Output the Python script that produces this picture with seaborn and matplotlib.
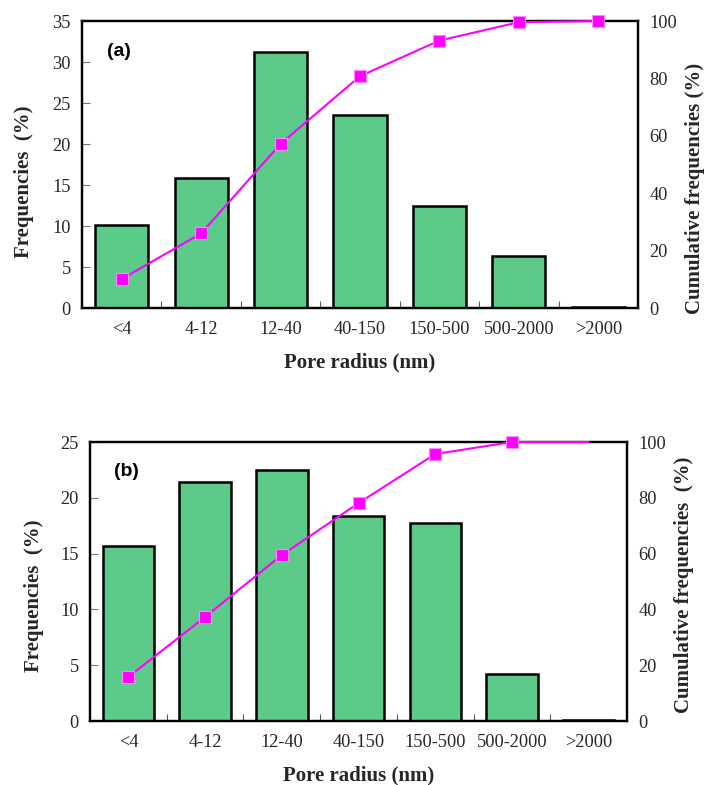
import numpy as np
import pandas as pd
import matplotlib
matplotlib.use("Agg")
import matplotlib.pyplot as plt
import seaborn as sns

sns.set_theme(style="white")
plt.rcParams['font.family'] = ['Liberation Serif', 'DejaVu Serif']

categories = ["<4", "4-12", "12-40", "40-150", "150-500", "500-2000", ">2000"]
freq_a = [10.1, 15.9, 31.2, 23.6, 12.4, 6.4, 0.1]
cum_a = [10.1, 26.0, 57.2, 80.8, 93.2, 99.6, 100.0]
freq_b = [15.7, 21.4, 22.5, 18.4, 17.7, 4.2, 0.1]
cum_b = [15.8, 37.3, 59.5, 78.1, 95.7, 100.0, 100.0]
ymax_a, ymax_b = 35, 25
panel_labels = ["(a)", "(b)"]
right_labels = ["Cumulative frequencies (%)", "Cumulative frequencies  (%)"]

BAR = "#5ccb8a"
MAG = "#ff00ff"
FS_TICK = 13.2
FS_LAB = 15

fig = plt.figure(figsize=(7.05, 7.85), dpi=100)
ax_a = fig.add_axes([0.1163, 0.6076, 0.7887, 0.3656])
ax_b = fig.add_axes([0.1277, 0.0815, 0.7617, 0.3554])

def draw(ax, freq, cum, ymax, plabel, rlabel, marker_n, lpos, rpos):
    df = pd.DataFrame({"cat": categories, "freq": freq})
    sns.barplot(data=df, x="cat", y="freq", ax=ax, color=BAR, saturation=1,
                width=0.67, edgecolor="black", linewidth=1.8)
    ax.set_xlim(-0.5, len(categories) - 0.5)
    ax.set_ylim(0, ymax)
    ax.set_yticks(np.arange(0, ymax + 1, 5))
    ax.set_xlabel("Pore radius (nm)", fontsize=FS_LAB, fontweight="bold", labelpad=11)
    ax.set_ylabel("Frequencies  (%)", fontsize=FS_LAB, fontweight="bold")
    ax.yaxis.set_label_coords(*lpos)
    ax.tick_params(axis="x", which="major", length=0, labelsize=FS_TICK, pad=9)
    ax.set_xticks(np.arange(0.5, len(categories) - 1, 1), minor=True)
    ax.tick_params(axis="x", which="minor", direction="in", length=5, width=0.8,
                   color="#555555", bottom=True)
    ax.tick_params(axis="y", direction="in", length=6, width=0.8, color="#777777",
                   left=True, labelsize=FS_TICK, pad=8)
    for s in ax.spines.values():
        s.set_color("black")
        s.set_linewidth(1.6)
    ax.text(0.067, 0.893, plabel, transform=ax.transAxes, fontsize=14,
            fontweight="bold", family=["Liberation Sans", "DejaVu Sans"],
            ha="center", va="center", color="black")

    ax2 = ax.twinx()
    x = np.arange(len(categories))
    sns.lineplot(x=x, y=cum, ax=ax2, color=MAG, linewidth=1.5)
    sns.scatterplot(x=x[:marker_n], y=cum[:marker_n], ax=ax2, marker="s", s=70,
                    color=MAG, edgecolor="#ff88ff", linewidth=0.8)
    for art in ax2.lines + ax2.collections:
        art.set_clip_on(False)
        art.set_zorder(5)
    ax2.set_ylim(0, 100)
    ax2.set_yticks(np.arange(0, 101, 20))
    ax2.set_xlim(-0.5, len(categories) - 0.5)
    ax2.tick_params(axis="y", length=0, labelsize=FS_TICK, pad=8)
    ax2.set_ylabel(rlabel, fontsize=FS_LAB, fontweight="bold", rotation=90)
    ax2.yaxis.set_label_coords(*rpos)
    for s in ax2.spines.values():
        s.set_color("black")
        s.set_linewidth(1.6)
        s.set_zorder(3)
    ax2.grid(False)

# label anchor positions (axes coords)
draw(ax_a, freq_a, cum_a, ymax_a, panel_labels[0], right_labels[0], 7,
     (-0.086, 0.44), (1.084, 0.415))
draw(ax_b, freq_b, cum_b, ymax_b, panel_labels[1], right_labels[1], 6,
     (-0.086, 0.45), (1.087, 0.488))

fig.savefig("out.png", dpi=100)
